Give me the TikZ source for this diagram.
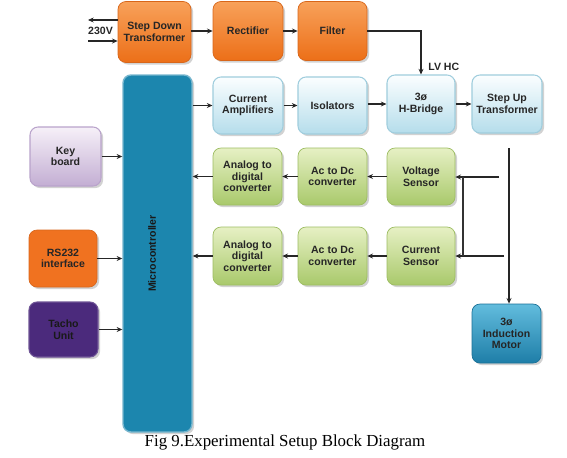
\documentclass[tikz,border=0pt]{standalone}
\usepackage{fontspec}
\setmainfont{Liberation Serif}
\newfontfamily\boxfont{Liberation Sans}
\usetikzlibrary{arrows.meta,shadows}
\def\pxu{0.02cm}
\definecolor{orgtop}{HTML}{F8A15A}
\definecolor{orgbot}{HTML}{EC6F18}
\definecolor{orgdraw}{HTML}{D8661A}
\definecolor{bluetop}{HTML}{FBFEFF}
\definecolor{bluebot}{HTML}{B5DDEB}
\definecolor{bluedraw}{HTML}{9FCDDD}
\definecolor{grntop}{HTML}{E6F0C4}
\definecolor{grnbot}{HTML}{A9C96B}
\definecolor{grndraw}{HTML}{9DBD62}
\definecolor{lavtop}{HTML}{F6F0F8}
\definecolor{lavbot}{HTML}{C3AED3}
\definecolor{lavdraw}{HTML}{B9A3CB}
\definecolor{rsfill}{HTML}{F07220}
\definecolor{tachofill}{HTML}{4B2A7C}
\definecolor{mcfill}{HTML}{1C86AE}
\definecolor{mottop}{HTML}{62BCDD}
\definecolor{motbot}{HTML}{1E7EA8}
\tikzset{
  x=0.02cm, y=-0.02cm,
  blk/.style={rounded corners=8*\pxu, inner sep=1pt, align=center,
    font=\boxfont\bfseries\fontsize{6}{6.6}\selectfont, text=black!85,
    drop shadow={shadow xshift=1.2pt, shadow yshift=-1.2pt, fill=black!35, opacity=0.5}},
  obox/.style={blk, top color=orgtop, bottom color=orgbot, draw=orgdraw, line width=0.4pt},
  bbox/.style={blk, top color=bluetop, bottom color=bluebot, draw=bluedraw, line width=0.6pt},
  gbox/.style={blk, top color=grntop, bottom color=grnbot, draw=grndraw, line width=0.4pt},
  lbox/.style={blk, top color=lavtop, bottom color=lavbot, draw=lavdraw, line width=0.6pt},
  rsbox/.style={blk, fill=rsfill, draw=rsfill!90!black, line width=0.4pt},
  tbox/.style={blk, fill=tachofill, draw=tachofill!80!white, line width=0.6pt, text=black!90},
  mbox/.style={blk, top color=mottop, bottom color=motbot, draw=motbot!90!black, line width=0.4pt},
  mcbox/.style={blk, fill=mcfill, draw=mcfill!60!white, line width=0.8pt},
  sz/.style 2 args={minimum width=#1*\pxu, minimum height=#2*\pxu},
  arr/.style={draw=black!85, line width=0.6pt, -{Stealth[length=3.2pt,width=2.8pt]}},
  ln/.style={draw=black!80, line width=0.6pt},
  lbl/.style={font=\boxfont\bfseries\fontsize{6}{6.6}\selectfont, text=black!85, inner sep=0pt}
}
\begin{document}
\begin{tikzpicture}
\useasboundingbox[fill=white] (0,0) rectangle (567,457);
% top row
\node[obox, sz={73}{61}] (sdt) at (154.5,32) {Step Down\\Transformer};
\node[obox, sz={70}{59}] (rect) at (248,31) {Rectifier};
\node[obox, sz={69}{59}] (filt) at (332.5,31) {Filter};
% microcontroller
\node[mcbox, sz={69}{357}] (mc) at (157.5,253.5) {};
\node[lbl, rotate=90, text=black!90] (mctxt) at (152,253.5) {Microcontroller};
% second row
\node[bbox, sz={70}{57}] (ca) at (248,105.5) {Current\\Amplifiers};
\node[bbox, sz={69}{57}] (iso) at (332.5,105.5) {Isolators};
\node[bbox, sz={68}{58}] (hb) at (421,104) {3ø\\H-Bridge};
\node[bbox, sz={70}{58}] (sut) at (507,104) {Step Up\\Transformer};
% left inputs
\node[lbox, sz={71}{59}] (kb) at (65.5,156.5) {Key\\board};
\node[rsbox, sz={68}{57}] (rs) at (63,258.5) {RS232\\interface};
\node[tbox, sz={69}{55}] (tacho) at (63.5,329.5) {Tacho\\Unit};
% sensing rows
\node[gbox, sz={69}{57}] (adc1) at (247.5,176.5) {Analog to\\digital\\converter};
\node[gbox, sz={69}{57}] (ac1) at (332.5,176.5) {Ac to Dc\\converter};
\node[gbox, sz={68}{57}] (vs) at (421,176.5) {Voltage\\Sensor};
\node[gbox, sz={69}{58}] (adc2) at (247.5,256) {Analog to\\digital\\converter};
\node[gbox, sz={69}{58}] (ac2) at (332.5,256) {Ac to Dc\\converter};
\node[gbox, sz={68}{58}] (cs) at (421,256) {Current\\Sensor};
% motor
\node[mbox, sz={69}{59}] (mot) at (506.5,333.5) {3ø\\Induction\\Motor};
% labels
\node[lbl] (v230) at (100.5,31) {230V};
\node[lbl, anchor=west] (lvhc) at (428,67) {LV HC};
\node[font=\fontsize{9.6}{11}\selectfont, inner sep=0pt] (cap) at (285,442) {Fig 9.Experimental Setup Block Diagram};
% coordinates
\coordinate (a230o) at (88,20);
\coordinate (a230i) at (88,41);
\coordinate (t1) at (499,177);
\coordinate (t2) at (504,256);
\coordinate (j1) at (463,177);
\coordinate (j2) at (463,256);
\coordinate (m0) at (509,148);
% connectors
\draw[arr] (sdt.west |- a230o) -- (a230o);
\draw[arr] (a230i) -- (sdt.west |- a230i);
\draw[arr] (sdt.east |- rect) -- (rect.west);
\draw[arr] (rect.east) -- (filt.west);
\draw[arr] (filt.east) -| (hb.north);
\draw[arr] (mc.east |- ca) -- (ca.west);
\draw[arr] (ca.east) -- (iso.west);
\draw[arr] (iso.east |- hb) -- (hb.west);
\draw[arr] (hb.east) -- (sut.west);
\draw[arr] (kb.east) -- (mc.west |- kb);
\draw[arr] (rs.east) -- (mc.west |- rs);
\draw[arr] (tacho.east) -- (mc.west |- tacho);
\draw[arr] (adc1.west) -- (mc.east |- adc1);
\draw[arr] (ac1.west) -- (adc1.east);
\draw[arr] (vs.west) -- (ac1.east);
\draw[arr] (adc2.west) -- (mc.east |- adc2);
\draw[arr] (ac2.west) -- (adc2.east);
\draw[arr] (cs.west) -- (ac2.east);
\draw[arr] (t1) -- (vs.east |- t1);
\draw[arr] (t2) -- (cs.east |- t2);
\draw[ln] (j1) -- (j2);
\draw[arr] (m0) -- (m0 |- mot.north);
\end{tikzpicture}
\end{document}
